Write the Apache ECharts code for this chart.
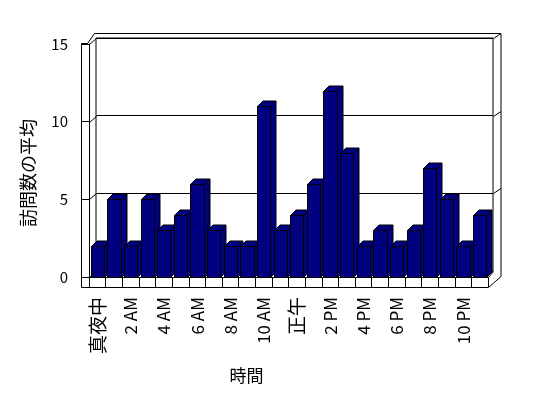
<!DOCTYPE html>
<html>
<head>
<meta charset="utf-8">
<script src="https://cdn.jsdelivr.net/npm/echarts@6/dist/echarts.min.js"></script>
<style>
  html, body { margin: 0; padding: 0; background: #fff; }
  #chart { width: 548px; height: 398px; }
</style>
</head>
<body>
<div id="chart"></div>
<script>
// 時間ごとの訪問数の平均
const hours = ['真夜中', '1 AM', '2 AM', '3 AM', '4 AM', '5 AM', '6 AM', '7 AM', '8 AM', '9 AM', '10 AM', '11 AM',
  '正午', '1 PM', '2 PM', '3 PM', '4 PM', '5 PM', '6 PM', '7 PM', '8 PM', '9 PM', '10 PM', '11 PM']
const visits = [2, 5, 2, 5, 3, 4, 6, 3, 2, 2, 11, 3, 4, 6, 12, 8, 2, 3, 2, 3, 7, 5, 2, 4]
const yTicks = [0, 5, 10, 15]

const font = '"Noto Sans CJK JP", "Noto Sans", sans-serif'

// plot box (front plane) and 3D offsets
const L = 89, T = 44, W = 399, H = 233
const BX = 7, BY = -6     // back wall offset
const WALL = 8, FLOOR = 10
const DEPTH = 5.5         // bar depth

const chart = echarts.init(document.getElementById('chart'))

function renderBar(params, api) {
  const top = api.coord([api.value(0), api.value(1)])
  const base = api.coord([api.value(0), 0])
  const w = api.size([1, 0])[0] * 0.8
  const l = Math.round(top[0] - w / 2) + 0.5
  const r = Math.round(top[0] + w / 2) + 0.5
  const y = Math.round(top[1]) + 0.5
  const b = Math.round(base[1]) + 0.5
  const style = { fill: '#000080', stroke: '#000', lineWidth: 1 }
  return {
    type: 'group',
    children: [
      { type: 'polygon', shape: { points: [[r, y], [r + DEPTH, y - DEPTH], [r + DEPTH, b - DEPTH], [r, b]] }, style },
      { type: 'polygon', shape: { points: [[l, y], [l + DEPTH, y - DEPTH], [r + DEPTH, y - DEPTH], [r, y]] }, style },
      { type: 'rect', shape: { x: l, y: y, width: r - l, height: b - y }, style }
    ]
  }
}

const options = {
  backgroundColor: '#fff',
  animation: false,
  textStyle: { fontFamily: font },
  grid: [
    { left: L, top: T, width: W, height: H },
    { left: L + BX, top: T + BY, width: W - 2, height: H, show: true, borderColor: '#000', borderWidth: 1, backgroundColor: '#fff', z: 0 }
  ],
  xAxis: [
    {
      type: 'category',
      gridIndex: 0,
      data: hours,
      name: '時間',
      nameLocation: 'middle',
      nameGap: 90,
      nameTextStyle: { fontSize: 17, color: '#000', fontFamily: font, padding: [0, 84, 0, 0] },
      axisLine: { lineStyle: { color: '#000', width: 1 } },
      axisTick: { show: true, interval: 0, length: FLOOR, lineStyle: { color: '#000' } },
      axisLabel: {
        interval: 1,
        rotate: 90,
        margin: 20,
        fontSize: 17,
        color: '#000',
        fontFamily: font,
        formatter: s => /^[\x00-\x7f]+$/.test(s) ? s : '{j|' + s + '}',
        rich: { j: { fontSize: 19, color: '#000', fontFamily: font } }
      },
      splitLine: { show: false }
    },
    { type: 'category', gridIndex: 1, data: hours, show: false }
  ],
  yAxis: [
    {
      type: 'value',
      gridIndex: 0,
      min: 0,
      max: 15,
      interval: 5,
      name: '訪問数の平均',
      nameLocation: 'middle',
      nameRotate: 90,
      nameGap: 52,
      nameTextStyle: { fontSize: 18, color: '#000', fontFamily: font, padding: [0, 25, 0, 0] },
      axisLine: { show: true, lineStyle: { color: '#000', width: 1 } },
      axisTick: { show: true, length: WALL, lineStyle: { color: '#000' } },
      axisLabel: { margin: 21, fontSize: 15, color: '#000', fontFamily: font },
      splitLine: { show: false }
    },
    {
      type: 'value',
      gridIndex: 1,
      min: 0,
      max: 15,
      interval: 5,
      axisLine: { show: false },
      axisTick: { show: false },
      axisLabel: { show: false },
      splitLine: { show: true, lineStyle: { color: '#000', width: 1 } }
    }
  ],
  series: [
    {
      name: '訪問数の平均',
      type: 'custom',
      xAxisIndex: 0,
      yAxisIndex: 0,
      renderItem: renderBar,
      clip: false,
      z: 5,
      data: visits.map((v, i) => [i, v])
    }
  ]
}
chart.setOption(options)

// frame: left wall, floor slab, back wall edges
const line = (x1, y1, x2, y2) => ({
  type: 'line',
  z: 10,
  shape: { x1: x1, y1: y1, x2: x2, y2: y2 },
  style: { stroke: '#000', lineWidth: 1 }
})
const px = v => Math.round(chart.convertToPixel({ yAxisIndex: 0 }, v)) + 0.5
const x0 = L + 0.5, x1 = L + W + 0.5
const y0 = px(0), yTop = px(15)
const BR = L + BX + W - 2 + 0.5
const OUT = BR + 7.5
const elements = [
  line(x0 - WALL, yTop - 1, x0 - WALL, y0 + FLOOR),
  line(x0 - WALL, y0 + FLOOR, x1, y0 + FLOOR),
  line(x0 - WALL, yTop - 1, x0 - 2, yTop - 1),
  line(x0 - 2, yTop - 1, x0 + 5, yTop - 11),
  line(x0 + 5, yTop - 11, OUT, yTop - 11),
  line(OUT, yTop - 11, OUT, y0 - 1),
  line(x1, y0 + FLOOR, OUT, y0 - 1),
  line(x1, y0, BR, y0 + BY)
]
yTicks.forEach(v => {
  elements.push(line(x0, px(v), x0 + BX, px(v) + BY))
  if (v > 0) elements.push(line(BR, px(v) + BY, OUT, px(v) + BY - 5))
})
chart.setOption({ graphic: { elements: elements } })
</script>
</body>
</html>
